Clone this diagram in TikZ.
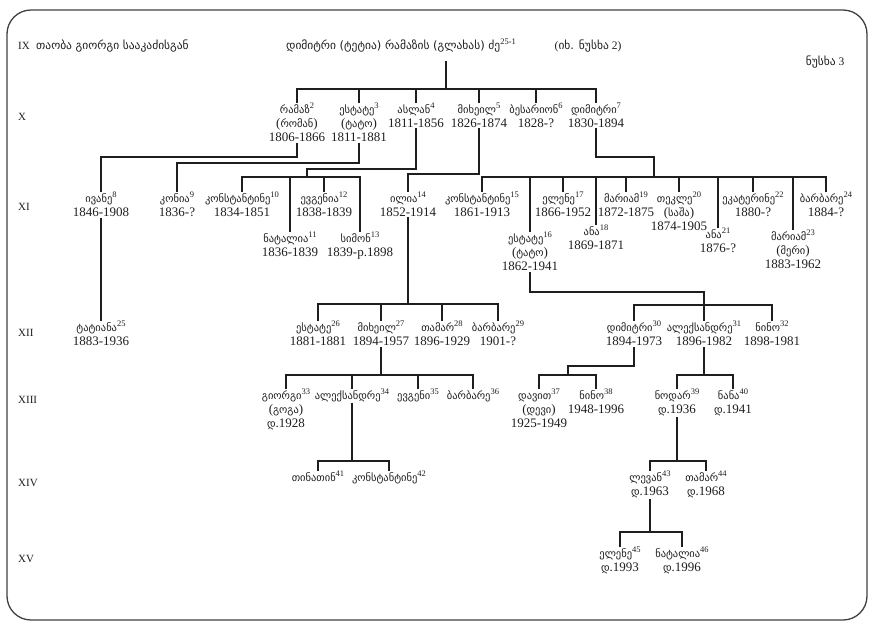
\documentclass[tikz,border=0pt]{standalone}
\usepackage{fontspec}
\setmainfont{Liberation Serif}
\newfontfamily\geo{DejaVu Sans}
\definecolor{ink}{HTML}{1E1E1E}
\newcommand\gtx[1]{{\geo\fontsize{10.5}{12}\selectfont #1}}
\newcommand\gtxh[1]{{\geo\fontsize{11.5}{12}\selectfont #1}}
\newcommand\supn[1]{\raisebox{5pt}{\fontsize{8.5}{9}\selectfont #1}}
\newcommand\nm[2]{\gtx{#1}\supn{#2}}
\newcommand\kids[2]{\foreach \c in {#2}{\draw[ln] (\c.north |- #1) -- (\c.north);}}
\begin{document}
\begin{tikzpicture}[x=1pt,y=-1pt,
  pers/.style={align=center, anchor=north, inner sep=1pt, text=ink, font=\fontsize{13}{14}\selectfont},
  gen/.style={anchor=base west, inner sep=0pt, text=ink, font=\fontsize{11}{12}\selectfont},
  plain/.style={inner sep=0pt, text=ink, font=\fontsize{11.5}{12}\selectfont},
  ln/.style={draw=ink, line width=1.3pt, line cap=rect}]
\useasboundingbox (0,0) rectangle (875,627);
\draw[draw=ink!85, line width=1.3pt, rounded corners=24pt] (7,10) rectangle (867,620);

% header
\node[gen] (gIX) at (18,49) {IX};
\node[gen] (hleft) at (36,49) {\gtxh{თაობა გიორგი სააკაძისგან}};
\node[plain, anchor=base] (hdr) at (401,49) {\gtxh{დიმიტრი (ტეტია) რამაზის (გლახას) ძე}\supn{25-1}};
\node[plain, anchor=base] (see) at (588,49) {(\gtxh{იხ. ნუსხა} 2)};
\node[plain, anchor=base] (list) at (825,65) {\gtxh{ნუსხა} 3};
\coordinate (r) at (446,62);

% generation labels
\node[gen] (gX) at (18,120) {X};
\node[gen] (gXI) at (18,210) {XI};
\node[gen] (gXII) at (18,336) {XII};
\node[gen] (gXIII) at (18,403) {XIII};
\node[gen] (gXIV) at (18,486) {XIV};
\node[gen] (gXV) at (18,562) {XV};

% generation X
\node[pers] (n2) at (297,102) {\nm{რამაზ}{2}\\(\gtx{რომან})\\1806-1866};
\node[pers] (n3) at (359,102) {\nm{ესტატე}{3}\\(\gtx{ტატო})\\1811-1881};
\node[pers] (n4) at (416,102) {\nm{ასლან}{4}\\1811-1856};
\node[pers] (n5) at (479,102) {\nm{მიხეილ}{5}\\1826-1874};
\node[pers] (n6) at (536,102) {\nm{ბესარიონ}{6}\\1828-?};
\node[pers] (n7) at (596,102) {\nm{დიმიტრი}{7}\\1830-1894};

% generation XI
\node[pers] (n8) at (101,191) {\nm{ივანე}{8}\\1846-1908};
\node[pers] (n9) at (177,191) {\nm{კონია}{9}\\1836-?};
\node[pers] (n10) at (242,191) {\nm{კონსტანტინე}{10}\\1834-1851};
\node[pers] (n11) at (290,231) {\nm{ნატალია}{11}\\1836-1839};
\node[pers] (n12) at (324,191) {\nm{ევგენია}{12}\\1838-1839};
\node[pers] (n13) at (360,231) {\nm{სიმონ}{13}\\1839-p.1898};
\node[pers] (n14) at (408,191) {\nm{ილია}{14}\\1852-1914};
\node[pers] (n15) at (482,191) {\nm{კონსტანტინე}{15}\\1861-1913};
\node[pers] (n16) at (530,231) {\nm{ესტატე}{16}\\(\gtx{ტატო})\\1862-1941};
\node[pers] (n17) at (563,191) {\nm{ელენე}{17}\\1866-1952};
\node[pers] (n18) at (596,224) {\nm{ანა}{18}\\1869-1871};
\node[pers] (n19) at (626,191) {\nm{მარიამ}{19}\\1872-1875};
\node[pers] (n20) at (679,191) {\nm{თეკლე}{20}\\(\gtx{საშა})\\1874-1905};
\node[pers] (n21) at (718,227) {\nm{ანა}{21}\\1876-?};
\node[pers] (n22) at (753,191) {\nm{ეკატერინე}{22}\\1880-?};
\node[pers] (n23) at (793,229) {\nm{მარიამ}{23}\\(\gtx{მერი})\\1883-1962};
\node[pers] (n24) at (826,191) {\nm{ბარბარე}{24}\\1884-?};

% generation XII
\node[pers] (n25) at (101,320) {\nm{ტატიანა}{25}\\1883-1936};
\node[pers] (n26) at (318,320) {\nm{ესტატე}{26}\\1881-1881};
\node[pers] (n27) at (381,320) {\nm{მიხეილ}{27}\\1894-1957};
\node[pers] (n28) at (442,320) {\nm{თამარ}{28}\\1896-1929};
\node[pers] (n29) at (498,320) {\nm{ბარბარე}{29}\\1901-?};
\node[pers] (n30) at (634,320) {\nm{დიმიტრი}{30}\\1894-1973};
\node[pers] (n31) at (704,320) {\nm{ალექსანდრე}{31}\\1896-1982};
\node[pers] (n32) at (772,320) {\nm{ნინო}{32}\\1898-1981};

% generation XIII
\node[pers] (n33) at (286,388) {\nm{გიორგი}{33}\\(\gtx{გოგა})\\\gtx{დ}.1928};
\node[pers] (n34) at (352,388) {\nm{ალექსანდრე}{34}};
\node[pers] (n35) at (418,388) {\nm{ევგენი}{35}};
\node[pers] (n36) at (473,388) {\nm{ბარბარე}{36}};
\node[pers] (n37) at (539,388) {\nm{დავით}{37}\\(\gtx{დევი})\\1925-1949};
\node[pers] (n38) at (596,388) {\nm{ნინო}{38}\\1948-1996};
\node[pers] (n39) at (677,388) {\nm{ნოდარ}{39}\\\gtx{დ}.1936};
\node[pers] (n40) at (733,388) {\nm{ნანა}{40}\\\gtx{დ}.1941};

% generation XIV
\node[pers] (n41) at (318,470) {\nm{თინათინ}{41}};
\node[pers] (n42) at (389,470) {\nm{კონსტანტინე}{42}};
\node[pers] (n43) at (650,470) {\nm{ლევან}{43}\\\gtx{დ}.1963};
\node[pers] (n44) at (706,470) {\nm{თამარ}{44}\\\gtx{დ}.1968};

% generation XV
\node[pers] (n45) at (620,546) {\nm{ელენე}{45}\\\gtx{დ}.1993};
\node[pers] (n46) at (682,546) {\nm{ნატალია}{46}\\\gtx{დ}.1996};

% junction coordinates
\coordinate (f1) at (446,89);
\coordinate (f4) at (307,177);
\coordinate (f7) at (654,177);
\coordinate (f14) at (408,304);
\coordinate (f16) at (704,305);
\coordinate (f27) at (381,375);
\coordinate (f30) at (568,375);
\coordinate (f31) at (704,375);
\coordinate (f34) at (352,461);
\coordinate (f39) at (677,461);
\coordinate (f43) at (650,532);

% connectors
\draw[ln] (r) -- (f1);
\draw[ln] (n2.north |- f1) -- (n7.north |- f1);
\kids{f1}{n2,n3,n4,n5,n6,n7}

\draw[ln] (n2.south) -- (n2.south |- 0,157) -| (n8.north);
\draw[ln] (n3.south) -- (n3.south |- 0,163) -| (n9.north);
\draw[ln] (n4.south) -- (n4.south |- 0,169) -| (f4);
\draw[ln] (n10.north |- f4) -- (n13.north |- f4);
\kids{f4}{n10,n11,n12,n13}
\draw[ln] (n5.south) -- (n5.south |- 0,174) -| (n14.north);
\draw[ln] (n7.south) -- (n7.south |- 0,157) -| (f7);
\draw[ln] (n15.north |- f7) -- (n24.north |- f7);
\kids{f7}{n15,n16,n17,n18,n19,n20,n21,n22,n23,n24}

\draw[ln] (n8.south) -- (n25.north);
\draw[ln] (n14.south) -- (f14);
\draw[ln] (n26.north |- f14) -- (n29.north |- f14);
\kids{f14}{n26,n27,n28,n29}
\draw[ln] (n16.south) -- (n16.south |- 0,292) -| (f16);
\draw[ln] (n30.north |- f16) -- (n32.north |- f16);
\kids{f16}{n30,n31,n32}

\draw[ln] (n27.south) -- (f27);
\draw[ln] (n33.north |- f27) -- (n36.north |- f27);
\kids{f27}{n33,n34,n35,n36}
\draw[ln] (n30.south) -- (n30.south |- 0,366) -| (f30);
\draw[ln] (n37.north |- f30) -- (n38.north |- f30);
\kids{f30}{n37,n38}
\draw[ln] (n31.south) -- (f31);
\draw[ln] (n39.north |- f31) -- (n40.north |- f31);
\kids{f31}{n39,n40}

\draw[ln] (n34.south) -- (f34);
\draw[ln] (n41.north |- f34) -- (n42.north |- f34);
\kids{f34}{n41,n42}
\draw[ln] (n39.south) -- (f39);
\draw[ln] (n43.north |- f39) -- (n44.north |- f39);
\kids{f39}{n43,n44}

\draw[ln] (n43.south) -- (f43);
\draw[ln] (n45.north |- f43) -- (n46.north |- f43);
\kids{f43}{n45,n46}
\end{tikzpicture}
\end{document}
